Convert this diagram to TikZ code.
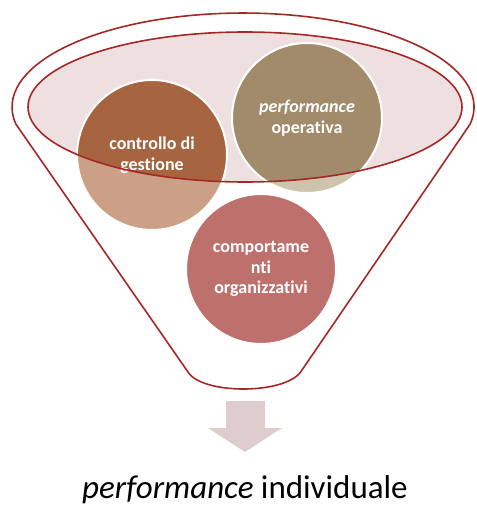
\documentclass[tikz,border=0pt]{standalone}
\usepackage{fontspec}
\setmainfont{Carlito}[Ligatures=NoCommon]
\usepackage{tikz}
\usetikzlibrary{positioning}
\definecolor{funnelred}{RGB}{163,40,38}
\definecolor{cupfill}{RGB}{238,224,224}
\definecolor{ctrldark}{RGB}{166,101,64}
\definecolor{ctrllight}{RGB}{204,160,134}
\definecolor{perfdark}{RGB}{161,139,107}
\definecolor{perflight}{RGB}{206,195,172}
\definecolor{complight}{RGB}{190,112,108}
\definecolor{arrowpink}{RGB}{223,205,205}
\tikzset{
  bubbletext/.style={text=white, font=\fontsize{18}{20.5}\selectfont\bfseries,
                     align=center, inner sep=0pt},
  funnelline/.style={draw=funnelred, line width=1.6pt}
}

\begin{document}
\begin{tikzpicture}[x=1pt,y=-1pt]

\useasboundingbox (0,0) rectangle (476,508);

% ---------- Funnel ----------
\draw[funnelline, fill=white]
  (470.2,124) arc[start angle=-10.4, end angle=190.4, x radius=231pt, y radius=94pt]
  -- (188,372) .. controls (202,395) and (288,395) .. (302,370) -- cycle;

% Inner rim
\fill[cupfill] (245,107) ellipse[x radius=217pt, y radius=75pt];

% ---------- Bubbles ----------
\foreach \name/\x/\y/\col in {ctrl/152/155/ctrllight,
  perf/307/118/perflight, comp/261/269/complight}{
  \coordinate (\name) at (\x,\y);
  \fill[\col] (\name) circle (75pt);
}

% Solid part inside the rim
\begin{scope}
  \clip (245,107) ellipse[x radius=217pt, y radius=75pt];
  \fill[ctrldark] (ctrl) circle (75pt);
  \fill[perfdark] (perf) circle (75pt);
\end{scope}

\foreach \name in {ctrl, perf, comp}{
  \draw[white, line width=2pt] (\name) circle (75pt);
}

% ---------- Labels ----------
\node[bubbletext] (ctrltext) at (ctrl) {controllo di\\gestione};
\node[bubbletext] (perftext) at (perf) {\textit{performance}\\operativa};
\node[bubbletext] (comptext) at (comp) {comportame\\nti\\organizzativi};

% Rim outline on top
\draw[funnelline] (245,107) ellipse[x radius=217pt, y radius=75pt];

% ---------- Output arrow ----------
\fill[arrowpink] (226,401) -- (265,401) -- (265,428) -- (282,428)
  -- (245,452) -- (208,428) -- (226,428) -- cycle;

\node[font=\fontsize{33}{37}\selectfont, anchor=base, inner sep=0pt] (result) at (245,498)
  {\textit{performance} individuale};

\end{tikzpicture}
\end{document}
